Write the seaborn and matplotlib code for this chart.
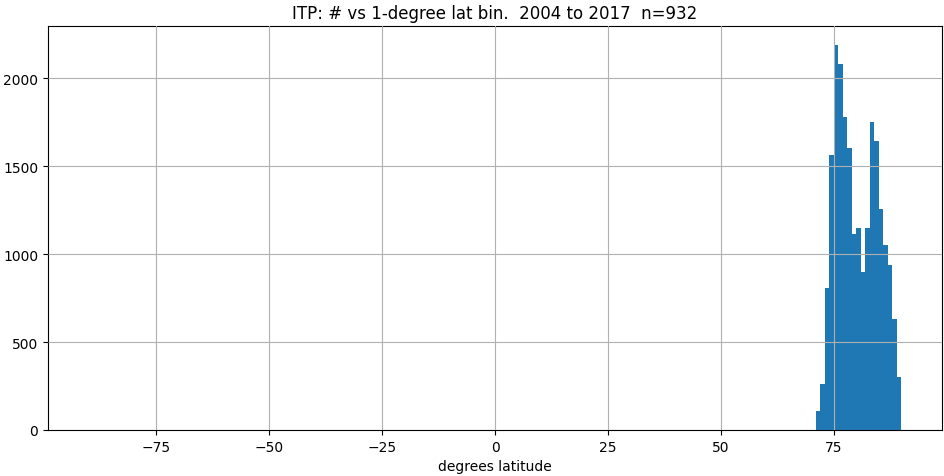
import numpy as np
import pandas as pd
import matplotlib
matplotlib.use("Agg")
import matplotlib.pyplot as plt
import seaborn as sns

# 1-degree latitude bins (lower edges) and counts
lat_bins = [71, 72, 73, 74, 75, 76, 77, 78, 79, 80, 81, 82, 83, 84, 85, 86, 87, 88, 89]
counts = [108, 259, 809, 1566, 2188, 2080, 1778, 1602, 1117, 1148, 898, 1148,
          1750, 1642, 1254, 1051, 936, 629, 301]
title = "ITP: # vs 1-degree lat bin.  2004 to 2017  n=932"
xlabel = "degrees latitude"

sns.set_style("ticks")
plt.rcParams['font.family'] = ['DejaVu Sans']
plt.rcParams['text.color'] = 'black'
plt.rcParams['axes.labelcolor'] = 'black'

df = pd.DataFrame({"lat": np.array(lat_bins) + 0.5, "count": counts})

fig = plt.figure(figsize=(9.44, 4.77), dpi=100)
ax = fig.add_axes([48 / 944, (477 - 431) / 477, (942 - 48) / 944, (431 - 27) / 477])
sns.histplot(data=df, x="lat", weights="count", binwidth=1, binrange=(-90, 90),
             color="#1f77b4", alpha=1.0, linewidth=0, edgecolor="none", ax=ax)
ax.set_xlim(-99, 99)
ax.set_ylim(0, 2297)
ax.set_xticks([-75, -50, -25, 0, 25, 50, 75])
ax.set_yticks([0, 500, 1000, 1500, 2000])
ax.set_axisbelow(False)
ax.grid(True, color="#b0b0b0", linewidth=0.8)
ax.set_title(title, fontsize=12, color="black")
ax.set_xlabel(xlabel, fontsize=10, color="black")
ax.set_ylabel("")
for s in ax.spines.values():
    s.set_visible(True)
    s.set_color("black")
    s.set_linewidth(0.8)
ax.tick_params(labelsize=10, direction="out", length=3.5, width=0.8, colors="black")
fig.savefig("out.png", dpi=100)
